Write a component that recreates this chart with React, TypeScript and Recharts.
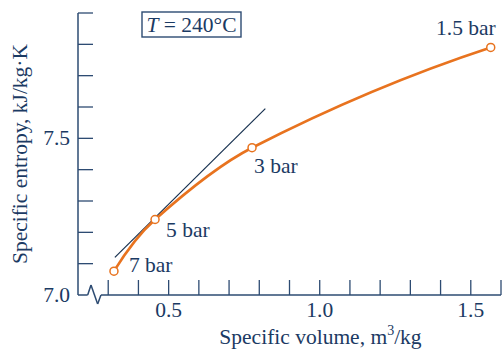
import React from 'react';
import { LineChart, Line, XAxis, YAxis, ReferenceLine, LabelList, Customized } from 'recharts';

// ---- data ----
const pressureLabels = ['7 bar', '5 bar', '3 bar', '1.5 bar'];
const specificVolume = [0.319, 0.455, 0.776, 1.566];
const specificEntropy = [7.076, 7.241, 7.47, 7.79];

const tangentVolume = [0.322, 0.82];
const tangentEntropy = [7.12, 7.595];

const xTicks = [0.3, 0.4, 0.5, 0.6, 0.7, 0.8, 0.9, 1.0, 1.1, 1.2, 1.3, 1.4, 1.5, 1.6];
const xTickLabels = ['0.5', '1.0', '1.5'];
const yTicks = [7.0, 7.1, 7.2, 7.3, 7.4, 7.5, 7.6, 7.7, 7.8, 7.9];
const yTickLabels = ['7.0', '7.5'];

const xDomain = [0.2, 1.6];
const yDomain = [7.0, 7.9];

// ---- built tables ----
const stateData = specificVolume.map((v, i) => ({ v, s: specificEntropy[i], label: pressureLabels[i] }));
const tangentData = tangentVolume.map((v, i) => ({ v, s: tangentEntropy[i] }));

// ---- styles ----
const TEXT = '#1b3a63';
const AXIS = '#2d4b72';
const ORANGE = '#e8731f';
const FONT = '"Liberation Serif", "Times New Roman", serif';
const FS = 21.5;
const TICK_LEN = 15;

const labelOffsets = [
  { dx: 15, dy: -6, anchor: 'start' },
  { dx: 11, dy: 11, anchor: 'start' },
  { dx: 2, dy: 18, anchor: 'start' },
  { dx: 5, dy: -19, anchor: 'end' },
];

// axis break geometry (data coords) along the x axis
const breakPath = [
  { x: 0.2, y: 7.0 },
  { x: 0.232, y: 7.0 },
  { x: 0.243, y: 7.032 },
  { x: 0.265, y: 6.971 },
  { x: 0.276, y: 7.0 },
  { x: 1.6, y: 7.0 },
];

// smooth curve through the points (Hermite in x, central-difference tangents)
const smoothX = (context: any) => {
  let xs: number[] = [];
  let ys: number[] = [];
  return {
    areaStart() {},
    areaEnd() {},
    lineStart() {
      xs = [];
      ys = [];
    },
    point(x: number, y: number) {
      xs.push(+x);
      ys.push(+y);
    },
    lineEnd() {
      const n = xs.length;
      if (n === 0) return;
      context.moveTo(xs[0], ys[0]);
      if (n === 1) return;
      if (n === 2) {
        context.lineTo(xs[1], ys[1]);
        return;
      }
      const m: number[] = new Array(n);
      for (let i = 1; i < n - 1; i++) m[i] = (ys[i + 1] - ys[i - 1]) / (xs[i + 1] - xs[i - 1]);
      m[0] = (2 * (ys[1] - ys[0])) / (xs[1] - xs[0]) - m[1];
      m[n - 1] = (2 * (ys[n - 1] - ys[n - 2])) / (xs[n - 1] - xs[n - 2]) - m[n - 2];
      for (let i = 0; i < n - 1; i++) {
        const h = (xs[i + 1] - xs[i]) / 3;
        context.bezierCurveTo(
          xs[i] + h,
          ys[i] + m[i] * h,
          xs[i + 1] - h,
          ys[i + 1] - m[i + 1] * h,
          xs[i + 1],
          ys[i + 1]
        );
      }
    },
  };
};

const XTick = (props: any) => {
  const { x, y, payload } = props;
  const lbl = Number(payload.value).toFixed(1);
  return (
    <g>
      <line x1={x} y1={y} x2={x} y2={y - TICK_LEN} stroke={AXIS} strokeWidth={1.3} />
      {xTickLabels.includes(lbl) && (
        <text x={x} y={y + 22} textAnchor="middle" fill={TEXT} fontFamily={FONT} fontSize={FS}>
          {lbl}
        </text>
      )}
    </g>
  );
};

const YTick = (props: any) => {
  const { x, y, payload } = props;
  const axisX = x + 8;
  const lbl = Number(payload.value).toFixed(1);
  return (
    <g>
      {lbl !== '7.0' && (
        <line x1={axisX} y1={y} x2={axisX + TICK_LEN} y2={y} stroke={AXIS} strokeWidth={1.3} />
      )}
      {yTickLabels.includes(lbl) && (
        <text x={x} y={y} dy={7} textAnchor="end" fill={TEXT} fontFamily={FONT} fontSize={FS}>
          {lbl}
        </text>
      )}
    </g>
  );
};

const PointLabel = (p: any) => {
  const o = labelOffsets[p.index];
  const px = p.x ?? p.viewBox?.x;
  const py = p.y ?? p.viewBox?.y;
  return (
    <text
      x={px + o.dx}
      y={py + o.dy}
      dy={7}
      textAnchor={o.anchor}
      fill={TEXT}
      fontFamily={FONT}
      fontSize={FS}
    >
      {p.value}
    </text>
  );
};

const TitleBox = () => (
  <g>
    <rect x={142} y={12} width={99} height={25} fill="#fff" stroke={AXIS} strokeWidth={1.4} />
    <text x={191.5} y={32} textAnchor="middle" fill={TEXT} fontFamily={FONT} fontSize={FS}>
      <tspan fontStyle="italic">T</tspan>
      <tspan> = 240°C</tspan>
    </text>
  </g>
);

const YLabel = (p: any) => {
  const vb = p.viewBox;
  const cx = vb.x + 20;
  const cy = vb.y + vb.height / 2;
  return (
    <text
      x={cx}
      y={cy}
      transform={`rotate(-90 ${cx} ${cy})`}
      textAnchor="middle"
      dominantBaseline="central"
      fill={TEXT}
      fontFamily={FONT}
      fontSize={FS}
    >
      Specific entropy, kJ/kg·K
    </text>
  );
};

const XLabel = (p: any) => {
  const vb = p.viewBox;
  const cx = vb.x + vb.width / 2 + 31;
  const by = vb.y + 49;
  return (
    <text x={cx} y={by} textAnchor="middle" fill={TEXT} fontFamily={FONT} fontSize={FS}>
      <tspan>Specific volume, m</tspan>
      <tspan fontSize={14} dy={-9}>3</tspan>
      <tspan dy={9}>/kg</tspan>
    </text>
  );
};

export default function App() {
  return (
    <div style={{ position: 'absolute', left: 0, top: 0, background: '#fff' }}>
      <LineChart
        width={503}
        height={350}
        margin={{ top: 13, right: 2, left: 0, bottom: 0 }}
      >
        <XAxis
          type="number"
          dataKey="v"
          domain={xDomain}
          ticks={xTicks}
          allowDataOverflow
          axisLine={false}
          tickLine={false}
          tickSize={0}
          tickMargin={0}
          tick={<XTick />}
          height={55}
          interval={0}
          label={<XLabel />}
        />
        <YAxis
          type="number"
          dataKey="s"
          domain={yDomain}
          ticks={yTicks}
          allowDataOverflow
          axisLine={{ stroke: AXIS, strokeWidth: 1.5 }}
          tickLine={false}
          tickSize={0}
          tickMargin={8}
          tick={<YTick />}
          width={78}
          interval={0}
          label={<YLabel />}
        />
        {breakPath.slice(0, -1).map((pt, i) => (
          <ReferenceLine
            key={i}
            segment={[pt, breakPath[i + 1]]}
            stroke={AXIS}
            strokeWidth={1.5}
            ifOverflow="visible"
          />
        ))}
        <Line
          data={tangentData}
          dataKey="s"
          stroke="#16304f"
          strokeWidth={1.2}
          dot={false}
          isAnimationActive={false}
          type="linear"
        />
        <Line
          data={stateData}
          dataKey="s"
          type={smoothX as any}
          stroke={ORANGE}
          strokeWidth={2.6}
          dot={{ r: 4, fill: '#fff', stroke: ORANGE, strokeWidth: 1.5 }}
          isAnimationActive={false}
        >
          <LabelList dataKey="label" content={<PointLabel />} />
        </Line>
        <Customized component={TitleBox} />
      </LineChart>
    </div>
  );
}
